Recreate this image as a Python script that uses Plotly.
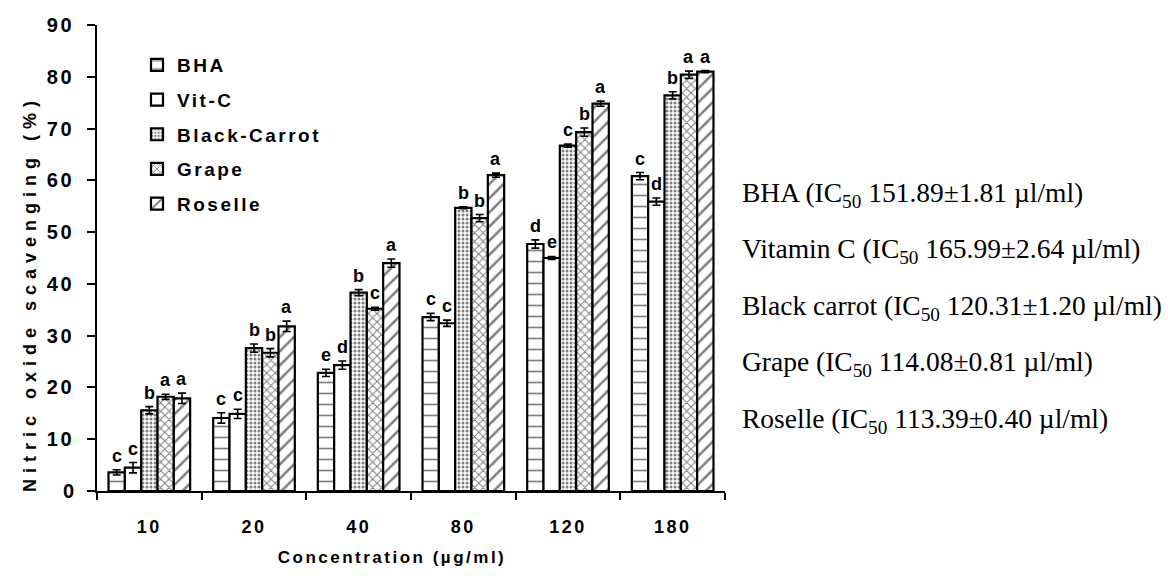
import plotly.graph_objects as go

categories = ["10", "20", "40", "80", "120", "180"]
series_names = ["BHA", "Vit-C", "Black-Carrot", "Grape", "Roselle"]

bha = [3.6, 14.1, 22.8, 33.6, 47.7, 60.8]
vitc = [4.5, 14.9, 24.3, 32.4, 45.0, 55.9]
black_carrot = [15.6, 27.6, 38.3, 54.7, 66.7, 76.4]
grape = [18.2, 26.7, 35.2, 52.7, 69.3, 80.4]
roselle = [17.9, 31.8, 44.0, 61.0, 74.8, 81.0]

bha_err = [0.5, 1.0, 0.7, 0.7, 0.8, 0.7]
vitc_err = [1.0, 0.9, 0.8, 0.6, 0.3, 0.7]
black_carrot_err = [0.7, 0.8, 0.6, 0.2, 0.3, 0.7]
grape_err = [0.5, 0.8, 0.3, 0.7, 0.8, 0.7]
roselle_err = [1.0, 1.0, 0.8, 0.4, 0.5, 0.2]

bha_letters = ["c", "c", "e", "c", "d", "c"]
vitc_letters = ["c", "c", "d", "c", "e", "d"]
black_carrot_letters = ["b", "b", "b", "b", "c", "b"]
grape_letters = ["a", "b", "c", "b", "b", "a"]
roselle_letters = ["a", "a", "a", "a", "a", "a"]

ic50_lines = [
    "BHA (IC<sub>50</sub> 151.89\u00b11.81 \u00b5l/ml)",
    "Vitamin C (IC<sub>50</sub> 165.99\u00b12.64 \u00b5l/ml)",
    "Black carrot (IC<sub>50</sub> 120.31\u00b11.20 \u00b5l/ml)",
    "Grape (IC<sub>50</sub> 114.08\u00b10.81 \u00b5l/ml)",
    "Roselle (IC<sub>50</sub> 113.39\u00b10.40 \u00b5l/ml)",
]

values = [bha, vitc, black_carrot, grape, roselle]
errors = [bha_err, vitc_err, black_carrot_err, grape_err, roselle_err]
letters = [bha_letters, vitc_letters, black_carrot_letters, grape_letters, roselle_letters]

patterns = [
    dict(shape="-", size=11, solidity=0.15, fgcolor="black", bgcolor="white"),
    dict(shape="", fgcolor="black", bgcolor="white"),
    dict(shape=".", size=4, solidity=0.45, fgcolor="black", bgcolor="white"),
    dict(shape="x", size=6, solidity=0.3, fgcolor="black", bgcolor="white"),
    dict(shape="/", size=10, solidity=0.25, fgcolor="black", bgcolor="white"),
]

SANS = "Liberation Sans, Arial, sans-serif"
SERIF = "Liberation Serif, Times New Roman, serif"

W, H = 1168, 581
ML, MR, MT, MB = 97, 443, 25, 90
plot_w = W - ML - MR
plot_h = H - MT - MB
bargap = 0.22
bar_px = plot_w / len(categories) * (1 - bargap) / len(series_names)

fig = go.Figure()
for j, name in enumerate(series_names):
    fig.add_trace(go.Bar(
        name=name, x=categories, y=values[j],
        marker=dict(color="white", line=dict(color="black", width=2.2), pattern=patterns[j]),
        error_y=dict(type="data", array=errors[j], color="black", thickness=1.6, width=4),
        legendgroup=name,
    ))

annotations = []
for j in range(len(series_names)):
    for i in range(len(categories)):
        annotations.append(dict(
            x=i, y=values[j][i] + errors[j][i], xref="x", yref="y",
            text=letters[j][i], showarrow=False,
            xshift=(j - 2) * bar_px, yanchor="bottom", yshift=2,
            font=dict(family=SANS, size=18, color="black", weight="bold"),
        ))

line_y = [194, 250, 307, 363, 420]
for k, t in enumerate(ic50_lines):
    annotations.append(dict(
        x=(740 - ML) / plot_w, y=(H - MB - line_y[k]) / plot_h,
        xref="paper", yref="paper", xanchor="left", yanchor="middle",
        text=t, showarrow=False,
        font=dict(family=SERIF, size=27.5, color="black"),
    ))

annotations.append(dict(
    x=(30 - ML) / plot_w, y=(H - MB - 294) / plot_h, xref="paper", yref="paper",
    text="Nitric oxide scavenging (%)", textangle=-90, showarrow=False,
    xanchor="center", yanchor="middle",
    font=dict(family=SANS, size=18, color="black", weight="bold"),
))
annotations.append(dict(
    x=(392 - ML) / plot_w, y=(H - MB - 557) / plot_h, xref="paper", yref="paper",
    text="Concentration (\u00b5g/ml)", showarrow=False,
    xanchor="center", yanchor="middle",
    font=dict(family=SANS, size=17, color="black", weight="bold"),
))

fig.update_layout(
    width=W, height=H,
    margin=dict(l=ML, r=MR, t=MT, b=MB),
    paper_bgcolor="white", plot_bgcolor="white",
    barmode="group", bargap=bargap, bargroupgap=0,
    showlegend=True,
    legend=dict(
        x=(137 - ML) / plot_w, y=(H - MB - 46) / plot_h, xanchor="left", yanchor="top",
        font=dict(family=SANS, size=19, color="black", weight="bold"),
        bgcolor="rgba(0,0,0,0)", tracegroupgap=7, traceorder="grouped",
    ),
    annotations=annotations,
)
fig.update_xaxes(
    type="category", range=[-0.5, len(categories) - 0.5],
    showline=True, linecolor="black", linewidth=1.8,
    ticks="outside", tickson="boundaries", ticklen=7, tickcolor="black", tickwidth=1.5,
    showgrid=False, zeroline=False, ticklabelstandoff=18, tickangle=0,
    tickfont=dict(family=SANS, size=18, color="black", weight="bold"),
)
fig.update_yaxes(
    range=[0, 90], dtick=10, showline=True, linecolor="black", linewidth=1.8,
    ticks="outside", ticklen=8, tickcolor="black", tickwidth=1.5,
    showgrid=False, zeroline=False, ticklabelstandoff=9,
    tickfont=dict(family=SANS, size=20, color="black", weight="bold"),
)

post = """
(function(){
  var gd = document.getElementById('{plot_id}');
  gd.querySelectorAll('.legend .scrollbox').forEach(function(s){ s.removeAttribute('clip-path'); });
  gd.querySelectorAll('text').forEach(function(t){
    var ff = t.style.fontFamily || '';
    if (ff.indexOf('Liberation Sans') >= 0) {
      var txt = t.textContent || '';
      if (txt.length > 1) {
        t.style.letterSpacing = (txt.indexOf('Nitric') >= 0) ? '6px' : '2.5px';
      }
    }
  });
})();
"""

fig.write_html("out.html", post_script=post)
